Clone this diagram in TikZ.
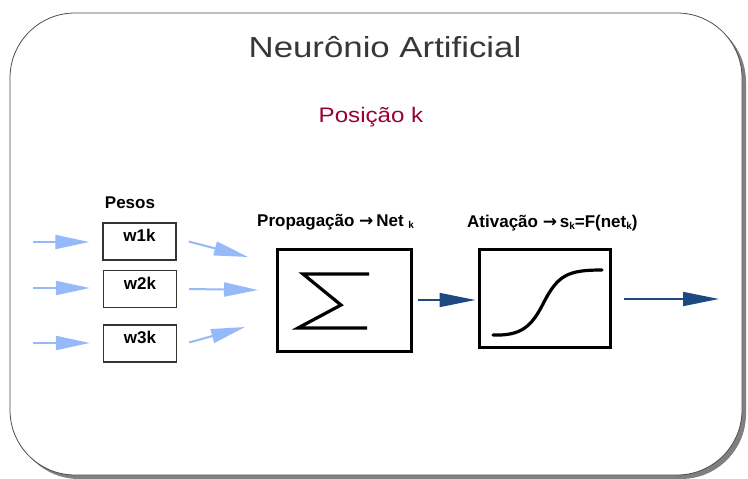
\documentclass[tikz,border=0pt]{standalone}
\usepackage{fontspec}
\setmainfont{Liberation Sans}
\newfontfamily\arrowfont{DejaVu Sans}
\usetikzlibrary{arrows.meta}
\definecolor{lblue}{RGB}{150,185,250}
\definecolor{dblue}{RGB}{30,72,130}
\definecolor{dred}{RGB}{155,0,50}
\definecolor{titlegray}{RGB}{55,55,55}
\newcommand{\sbk}[1]{\raisebox{-0.25ex}{\fontsize{10}{10}\selectfont #1}}
\newcommand{\rarr}{{\arrowfont\bfseries →}}
\begin{document}
\begin{tikzpicture}[x=1pt,y=-1pt,
  wbox/.style={draw=black!80,line width=1.4pt,minimum width=73pt,minimum height=37pt,inner sep=0pt},
  bigbox/.style={draw=black,line width=3pt,inner sep=0pt},
  lab/.style={font=\fontsize{17}{17}\selectfont\bfseries,inner sep=0pt},
  inarrow/.style={lblue,line width=2pt,-{Triangle[length=34pt,width=14pt]}},
  darrow/.style={dblue,line width=1.5pt,-{Triangle[length=36pt,width=14pt]}}]
\useasboundingbox (0,0) rectangle (748,479);
% frame with shadow
\fill[black!50,rounded corners=65pt] (14,17) rectangle (746,479);
\draw[black!70,line width=0.8pt,fill=white,rounded corners=65pt] (10,13) rectangle (742,475);
% titles
\node[inner sep=0pt,text=titlegray] (title) at (385,47) {\scalebox{1.2}[1]{\fontsize{29}{29}\selectfont Neurônio Artificial}};
\node[inner sep=0pt,text=dred] (pos) at (371,117) {\scalebox{1.15}[1]{\fontsize{21}{21}\selectfont Posição k}};
\node[lab] (pesos) at (130,203) {Pesos};
% weight boxes
\node[wbox,label={[lab,anchor=north,yshift=-7pt]north:w1k}] (w1) at (139.5,241.5) {};
\node[wbox,label={[lab,anchor=north,yshift=-7pt]north:w2k}] (w2) at (140,289) {};
\node[wbox,label={[lab,anchor=north,yshift=-7pt]north:w3k}] (w3) at (140,343.5) {};
% input coordinates
\coordinate (i1) at (33,242);
\coordinate (i2) at (33,288);
\coordinate (i3) at (33,343);
\draw[inarrow,shorten >=13pt] (i1) -- (i1 -| w1.west);
\draw[inarrow,shorten >=13pt] (i2) -- (i2 -| w2.west);
\draw[inarrow,shorten >=13pt] (i3) -- (i3 -| w3.west);
% summation box
\node[bigbox,minimum width=134pt,minimum height=102pt] (sum) at (344,300) {};
\draw[line width=3.2pt,line join=miter] (369,274) -- (303,274) -- (341,305) -- (298,328) -- (367,328);
\node[lab,anchor=west] (prop) at (257,222) {Propagação \rarr\,Net \sbk{k}};
% weight to sum arrows
\coordinate (p1) at (248,257);
\coordinate (p2) at (258,290);
\coordinate (p3) at (245,327);
\draw[inarrow] ([xshift=12pt]w1.east) -- (p1);
\draw[inarrow] ([xshift=12pt]w2.east) -- (p2);
\draw[inarrow] ([xshift=12pt,yshift=1pt]w3.east) -- (p3);
% activation box
\node[bigbox,minimum width=131pt,minimum height=98pt] (act) at (544.5,298) {};
\draw[line width=3.2pt,line cap=round] (493,335) .. controls (522,336) and (532,326) .. (544,302)
  .. controls (558,275) and (568,270) .. (602,270);
\node[lab,anchor=west] (ativ) at (467,223) {Ativação \rarr\,s\sbk{k}=F(net\sbk{k})};
\draw[darrow,shorten <=5pt,shorten >=2pt] (sum.east) -- (sum.east -| act.west);
\coordinate (out) at (719,299);
\draw[darrow,shorten <=12pt] (act.east |- out) -- (out);
\end{tikzpicture}
\end{document}
